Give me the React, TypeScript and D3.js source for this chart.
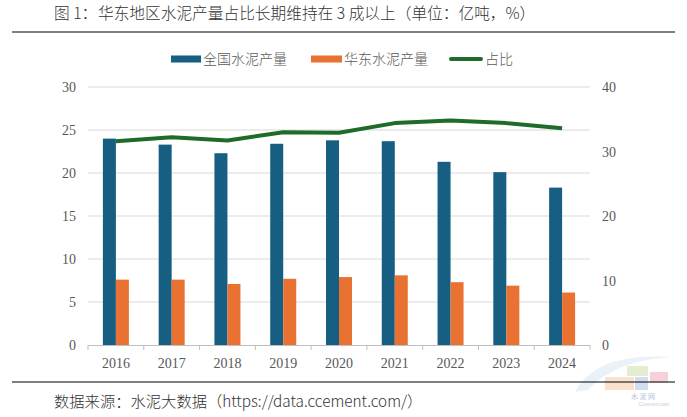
import React, { useEffect, useRef } from 'react';
import * as d3 from 'd3';

const years = ['2016', '2017', '2018', '2019', '2020', '2021', '2022', '2023', '2024'];
const national = [24.0, 23.3, 22.3, 23.4, 23.8, 23.7, 21.3, 20.1, 18.3];
const eastChina = [7.6, 7.6, 7.1, 7.7, 7.9, 8.1, 7.3, 6.9, 6.1];
const share = [31.6, 32.2, 31.7, 33.0, 32.9, 34.4, 34.8, 34.4, 33.6];
const leftTicks = [0, 5, 10, 15, 20, 25, 30];
const rightTicks = [0, 10, 20, 30, 40];

const W = 687;
const H = 417;
const BLUE = '#175f82';
const ORANGE = '#e97132';
const GREEN = '#1e6b2a';
const CJK = '"Noto Sans CJK SC", "Noto Sans", sans-serif';
const SERIF = '"Liberation Serif", "DejaVu Serif", serif';

const App: React.FC = () => {
  const svgRef = useRef<SVGSVGElement>(null);

  useEffect(() => {
    if (!svgRef.current) return;
    const svg = d3.select(svgRef.current);
    svg.selectAll('*').remove();

    const left = 88, right = 590, top = 87, bottom = 345;

    const x = d3.scaleBand().domain(years).range([left, right]);
    const yL = d3.scaleLinear().domain([0, 30]).range([bottom, top]);
    const yR = d3.scaleLinear().domain([0, 40]).range([bottom, top]);
    const barW = 13;

    // Title
    const title = svg.append('text')
      .attr('y', 19)
      .style('font-family', CJK).style('font-size', '15.7px').style('fill', '#333')
      .style('font-weight', 300);
    title.append('tspan').attr('x', 54).text('图 1：');
    title.append('tspan').attr('x', 98).text('华东地区水泥产量占比长期维持在 3 成以上（单位：亿吨，%）');

    svg.append('line')
      .attr('x1', 12).attr('x2', 675).attr('y1', 32).attr('y2', 32)
      .attr('stroke', '#000').attr('stroke-width', 1.2);

    // Legend
    const legend = [
      { label: '全国水泥产量', color: BLUE, x: 171, w: 30, h: 7 },
      { label: '华东水泥产量', color: ORANGE, x: 311, w: 31, h: 7 },
      { label: '占比', color: GREEN, x: 449, w: 34, h: 4 },
    ];
    legend.forEach(l => {
      svg.append('rect')
        .attr('x', l.x).attr('y', 59 - l.h / 2).attr('width', l.w).attr('height', l.h)
        .attr('rx', l.h === 4 ? 2 : 0)
        .attr('fill', l.color);
      svg.append('text')
        .attr('x', l.x + l.w + 2).attr('y', 64)
        .style('font-family', CJK).style('font-size', '14px').style('fill', '#595959')
        .style('font-weight', 300)
        .text(l.label);
    });

    // Gridlines
    svg.append('g').selectAll('line')
      .data(leftTicks.filter(t => t > 0))
      .enter().append('line')
      .attr('x1', left).attr('x2', right)
      .attr('y1', d => yL(d)).attr('y2', d => yL(d))
      .attr('stroke', '#d9d9d9').attr('stroke-width', 1);

    // Left axis labels
    svg.append('g').selectAll('text')
      .data(leftTicks)
      .enter().append('text')
      .attr('x', 76).attr('y', d => yL(d) + 5)
      .attr('text-anchor', 'end')
      .style('font-family', SERIF).style('font-size', '14px').style('fill', '#595959')
      .text(d => d);

    // Right axis labels
    svg.append('g').selectAll('text')
      .data(rightTicks)
      .enter().append('text')
      .attr('x', 602).attr('y', d => yR(d) + 5)
      .style('font-family', SERIF).style('font-size', '14px').style('fill', '#595959')
      .text(d => d);

    // Bars
    svg.append('g').selectAll('rect')
      .data(years)
      .enter().append('rect')
      .attr('x', d => (x(d) || 0) + x.bandwidth() / 2 - barW)
      .attr('y', (d, i) => yL(national[i]))
      .attr('width', barW)
      .attr('height', (d, i) => bottom - yL(national[i]))
      .attr('fill', BLUE);

    svg.append('g').selectAll('rect')
      .data(years)
      .enter().append('rect')
      .attr('x', d => (x(d) || 0) + x.bandwidth() / 2)
      .attr('y', (d, i) => yL(eastChina[i]))
      .attr('width', barW)
      .attr('height', (d, i) => bottom - yL(eastChina[i]))
      .attr('fill', ORANGE);

    // X axis
    svg.append('line')
      .attr('x1', left).attr('x2', right).attr('y1', bottom + 0.5).attr('y2', bottom + 0.5)
      .attr('stroke', '#bfbfbf');
    const bounds = years.map(d => x(d) || 0).concat([right]);
    svg.append('g').selectAll('line')
      .data(bounds)
      .enter().append('line')
      .attr('x1', d => d).attr('x2', d => d)
      .attr('y1', bottom).attr('y2', bottom + 5)
      .attr('stroke', '#bfbfbf');
    svg.append('g').selectAll('text')
      .data(years)
      .enter().append('text')
      .attr('x', d => (x(d) || 0) + x.bandwidth() / 2)
      .attr('y', 368)
      .attr('text-anchor', 'middle')
      .style('font-family', SERIF).style('font-size', '14px').style('fill', '#595959')
      .text(d => d);

    // Share line
    const line = d3.line<number>()
      .x((d, i) => (x(years[i]) || 0) + x.bandwidth() / 2)
      .y(d => yR(d));
    svg.append('path')
      .attr('d', line(share) || '')
      .attr('fill', 'none')
      .attr('stroke', GREEN)
      .attr('stroke-width', 4)
      .attr('stroke-linejoin', 'round');

    // Watermark (faint)
    const wm = svg.append('g').attr('opacity', 0.6);
    wm.append('path')
      .attr('d', 'M 575 392 Q 595 352 672 357 Q 615 360 588 390 Z')
      .attr('fill', '#dbe9f6');
    wm.append('rect').attr('x', 627).attr('y', 366).attr('width', 21).attr('height', 10).attr('fill', '#cfe3b0');
    wm.append('rect').attr('x', 605).attr('y', 377).attr('width', 29).attr('height', 13).attr('fill', '#f8cfb0');
    wm.append('rect').attr('x', 635).attr('y', 377).attr('width', 13).attr('height', 13).attr('fill', '#b9c8e6');
    wm.append('rect').attr('x', 650).attr('y', 372).attr('width', 18).attr('height', 11).attr('fill', '#f3b3bd');
    wm.append('text').attr('x', 643).attr('y', 399).attr('text-anchor', 'middle')
      .style('font-family', CJK).style('font-size', '7px').style('fill', '#7d96c0').text('水 泥 网');
    wm.append('text').attr('x', 654).attr('y', 406).attr('text-anchor', 'middle')
      .style('font-family', 'Arial, sans-serif').style('font-size', '5px').style('fill', '#9aaac8').text('Ccement.com');

    // Footer
    svg.append('line')
      .attr('x1', 12).attr('x2', 675).attr('y1', 382).attr('y2', 382)
      .attr('stroke', '#000').attr('stroke-width', 1.2);
    svg.append('text')
      .attr('x', 54).attr('y', 407)
      .style('font-family', CJK).style('font-size', '15.3px').style('fill', '#333')
      .style('font-weight', 300)
      .text('数据来源：水泥大数据（https://data.ccement.com/）');
  }, []);

  return (
    <svg ref={svgRef} width={W} height={H}
      style={{ position: 'absolute', left: 0, top: 0, background: '#fff', display: 'block' }} />
  );
};

export default App;
